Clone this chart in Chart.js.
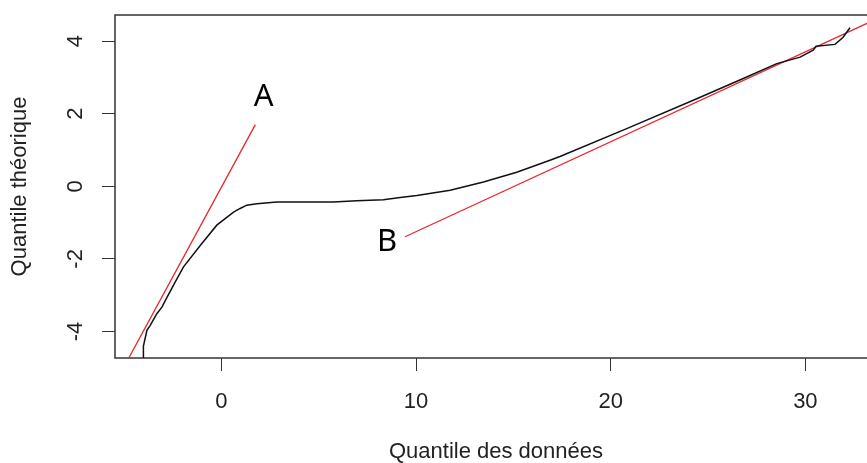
<!DOCTYPE html>
<html>
<head>
<meta charset="utf-8">
<script src="https://cdn.jsdelivr.net/npm/chart.js@4/dist/chart.umd.min.js"></script>
<style>
  html, body { margin: 0; padding: 0; background: #fff; overflow: hidden; width: 867px; height: 463px; }
  #wrap { width: 890px; height: 463px; }
</style>
</head>
<body>
<div id="wrap"><canvas id="qq" width="890" height="463"></canvas></div>
<script>
// Sample quantiles (x) against theoretical normal quantiles (y)
const dataQuantiles = [-4.01, -4.01, -3.83, -3.66, -3.32, -3.06, -2.80, -2.38, -1.95, -1.09, -0.24, 0.19, 0.62, 0.96, 1.30, 1.82, 2.84, 5.75, 6.95, 8.32, 9.18, 10.04, 11.75, 13.46, 15.17, 16.88, 17.39, 20.82, 24.24, 26.81, 28.53, 29.73, 30.40, 30.55, 31.52, 31.93, 32.29];
const theoQuantiles = [-4.75, -4.40, -3.97, -3.83, -3.51, -3.33, -3.06, -2.64, -2.22, -1.63, -1.07, -0.89, -0.71, -0.61, -0.52, -0.48, -0.43, -0.43, -0.40, -0.37, -0.31, -0.25, -0.11, 0.12, 0.39, 0.72, 0.82, 1.59, 2.37, 2.97, 3.38, 3.56, 3.75, 3.86, 3.91, 4.10, 4.37];

// Reference line A (left component) and B (right component): end points
const lineAx = [-5.60, 1.74];
const lineAy = [-5.56, 1.70];
const lineBx = [9.43, 33.70];
const lineBy = [-1.39, 4.62];

// Axis ticks
const xTicks = [0, 10, 20, 30];
const yTicks = [-4, -2, 0, 2, 4];

// Line tags
const tagText = ['A', 'B'];
const tagX = [2.17, 8.51];
const tagY = [2.46, -1.53];

const toPoints = (xs, ys) => xs.map((x, i) => ({ x: x, y: ys[i] }));

const FONT = '"Liberation Sans", Arial, sans-serif';
const INK = '#222';
const AXIS = '#333';

const boxPlugin = {
  id: 'plotBox',
  beforeDatasetsDraw(chart) {
    const { ctx, chartArea: a } = chart;
    ctx.save();
    ctx.strokeStyle = AXIS;
    ctx.lineWidth = 1.5;
    ctx.strokeRect(a.left, a.top, a.right - a.left, a.bottom - a.top);
    ctx.restore();
  }
};

const tagPlugin = {
  id: 'lineTags',
  afterDatasetsDraw(chart) {
    const { ctx, scales } = chart;
    ctx.save();
    ctx.fillStyle = '#000';
    ctx.font = '31px "Noto Sans", "Open Sans", sans-serif';
    ctx.textAlign = 'center';
    ctx.textBaseline = 'middle';
    tagText.forEach((t, i) => {
      ctx.fillText(t, scales.x.getPixelForValue(tagX[i]), scales.y.getPixelForValue(tagY[i]));
    });
    ctx.restore();
  }
};

new Chart(document.getElementById('qq'), {
  type: 'scatter',
  data: {
    datasets: [
      {
        label: 'Quantiles',
        data: toPoints(dataQuantiles, theoQuantiles),
        showLine: true,
        borderColor: '#111',
        borderWidth: 1.5,
        pointRadius: 0,
        tension: 0,
        order: 1
      },
      {
        label: 'A',
        data: toPoints(lineAx, lineAy),
        showLine: true,
        borderColor: '#e8262e',
        borderWidth: 1.3,
        pointRadius: 0,
        order: 2
      },
      {
        label: 'B',
        data: toPoints(lineBx, lineBy),
        showLine: true,
        borderColor: '#e8262e',
        borderWidth: 1.3,
        pointRadius: 0,
        order: 2
      }
    ]
  },
  options: {
    responsive: false,
    devicePixelRatio: 1,
    animation: false,
    layout: { padding: { top: 15, right: 13, left: 0, bottom: 0 } },
    plugins: { legend: { display: false }, tooltip: { enabled: false } },
    scales: {
      x: {
        type: 'linear',
        position: 'bottom',
        min: -5.47,
        max: 33.68,
        afterBuildTicks: s => { s.ticks = xTicks.map(v => ({ value: v })); },
        afterFit: s => { s.height = 105; s.paddingLeft = 0; s.paddingRight = 0; },
        border: { display: false },
        grid: { drawOnChartArea: false, drawTicks: true, tickLength: 13, color: AXIS, lineWidth: 1 },
        ticks: { font: { family: FONT, size: 22 }, color: INK, padding: 18, maxRotation: 0, autoSkip: false },
        title: { display: true, text: 'Quantile des données', color: INK, font: { family: FONT, size: 22, lineHeight: 1 }, padding: { top: 0, bottom: 0 } }
      },
      y: {
        type: 'linear',
        position: 'left',
        min: -4.73,
        max: 4.72,
        afterBuildTicks: s => { s.ticks = yTicks.map(v => ({ value: v })); },
        afterFit: s => { s.width = 115; s.paddingTop = 0; s.paddingBottom = 0; },
        border: { display: false },
        grid: { drawOnChartArea: false, drawTicks: true, tickLength: 13, color: AXIS, lineWidth: 1 },
        ticks: { font: { family: FONT, size: 22 }, color: INK, padding: 16, minRotation: 90, maxRotation: 90, crossAlign: 'center', autoSkip: false },
        title: { display: true, text: 'Quantile théorique', color: INK, font: { family: FONT, size: 22, lineHeight: 1 }, padding: { top: 9, bottom: 0 } }
      }
    }
  },
  plugins: [boxPlugin, tagPlugin]
});
</script>
</body>
</html>
